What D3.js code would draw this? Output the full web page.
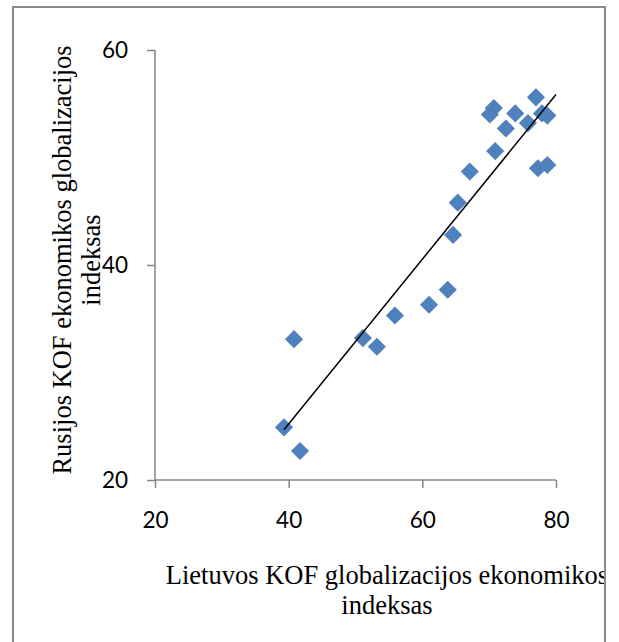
<!DOCTYPE html>
<html>
<head>
<meta charset="utf-8">
<script src="https://cdn.jsdelivr.net/npm/d3@7"></script>
<style>
  body { margin: 0; background: #fff; }
  .tick text { font-family: Lato, "Open Sans", sans-serif; font-size: 22.5px; fill: #000; }
  .title { font-family: "Liberation Serif", "Times New Roman", serif; font-size: 26.5px; fill: #000; }
</style>
</head>
<body>
<div id="chart"></div>
<script>
// Lietuvos (x) vs Rusijos (y) KOF economic globalization index
const lithuania = [39.3, 41.7, 40.8, 51.1, 53.2, 55.9, 61.0, 63.8, 64.6, 65.3, 67.1,
  70.9, 70.1, 70.7, 72.5, 73.9, 75.8, 77.0, 77.9, 78.7, 77.3, 78.7];
const russia = [24.9, 22.7, 33.1, 33.2, 32.4, 35.3, 36.3, 37.7, 42.8, 45.8, 48.7,
  50.6, 54.0, 54.6, 52.7, 54.1, 53.2, 55.6, 54.1, 53.9, 49.0, 49.3];
const xTicks = [20, 40, 60, 80];
const yTicks = [20, 40, 60];
const xTitle = ["Lietuvos KOF globalizacijos ekonomikos", "indeksas"];
const yTitle = ["Rusijos KOF ekonomikos globalizacijos", "indeksas"];

const width = 619, height = 642;
const plot = { left: 155, right: 556, top: 50, bottom: 480 };

const svg = d3.select("#chart").append("svg")
  .attr("width", width)
  .attr("height", height);

svg.append("defs").append("clipPath").attr("id", "frame-clip")
  .append("rect").attr("x", 13).attr("y", 7).attr("width", 592).attr("height", 660);

const x = d3.scaleLinear().domain([20, 80]).range([plot.left, plot.right]);
const y = d3.scaleLinear().domain([20, 60]).range([plot.bottom, plot.top]);

// x axis
const xAxis = svg.append("g")
  .attr("transform", `translate(0,${plot.bottom})`)
  .call(d3.axisBottom(x).tickValues(xTicks).tickSize(8).tickPadding(24));
xAxis.select(".domain").attr("stroke", "#868686").attr("stroke-width", 1.5)
  .attr("d", `M${plot.left},0H${plot.right}`);
xAxis.selectAll(".tick line").attr("stroke", "#868686").attr("stroke-width", 1.5);

// y axis
const yAxis = svg.append("g")
  .attr("transform", `translate(${plot.left},0)`)
  .call(d3.axisLeft(y).tickValues(yTicks).tickSize(8).tickPadding(19));
yAxis.select(".domain").attr("stroke", "#868686").attr("stroke-width", 1.5)
  .attr("d", `M0,${plot.top}V${plot.bottom}`);
yAxis.selectAll(".tick line").attr("stroke", "#868686").attr("stroke-width", 1.5);

// linear trendline (least squares)
const n = lithuania.length;
const mx = d3.mean(lithuania), my = d3.mean(russia);
let sxy = 0, sxx = 0;
for (let i = 0; i < n; i++) {
  sxy += (lithuania[i] - mx) * (russia[i] - my);
  sxx += (lithuania[i] - mx) ** 2;
}
const slope = sxy / sxx;
const intercept = my - slope * mx;
const x0 = d3.min(lithuania), x1 = 80;

// markers
svg.append("g")
  .selectAll("path")
  .data(d3.range(n))
  .join("path")
  .attr("d", d3.symbol(d3.symbolDiamond2, 210)())
  .attr("transform", (i) => `translate(${x(lithuania[i])},${y(russia[i])})`)
  .attr("fill", "#4f81bd");

svg.append("line")
  .attr("x1", x(x0)).attr("y1", y(intercept + slope * x0))
  .attr("x2", x(x1)).attr("y2", y(intercept + slope * x1))
  .attr("stroke", "#000")
  .attr("stroke-width", 1.5);

// titles
const g = svg.append("g").attr("clip-path", "url(#frame-clip)");
g.append("text").attr("class", "title")
  .attr("text-anchor", "middle")
  .selectAll("tspan")
  .data(xTitle)
  .join("tspan")
  .attr("x", 387)
  .attr("y", (d, i) => 584 + i * 30)
  .text((d) => d);

g.append("text").attr("class", "title")
  .attr("text-anchor", "middle")
  .attr("transform", "rotate(-90)")
  .selectAll("tspan")
  .data(yTitle)
  .join("tspan")
  .attr("x", -260)
  .attr("y", (d, i) => 71 + i * 29)
  .text((d) => d);

// frame
svg.append("rect")
  .attr("x", 13).attr("y", 7)
  .attr("width", 592).attr("height", 660)
  .attr("fill", "none")
  .attr("stroke", "#898989")
  .attr("stroke-width", 2);
</script>
</body>
</html>
